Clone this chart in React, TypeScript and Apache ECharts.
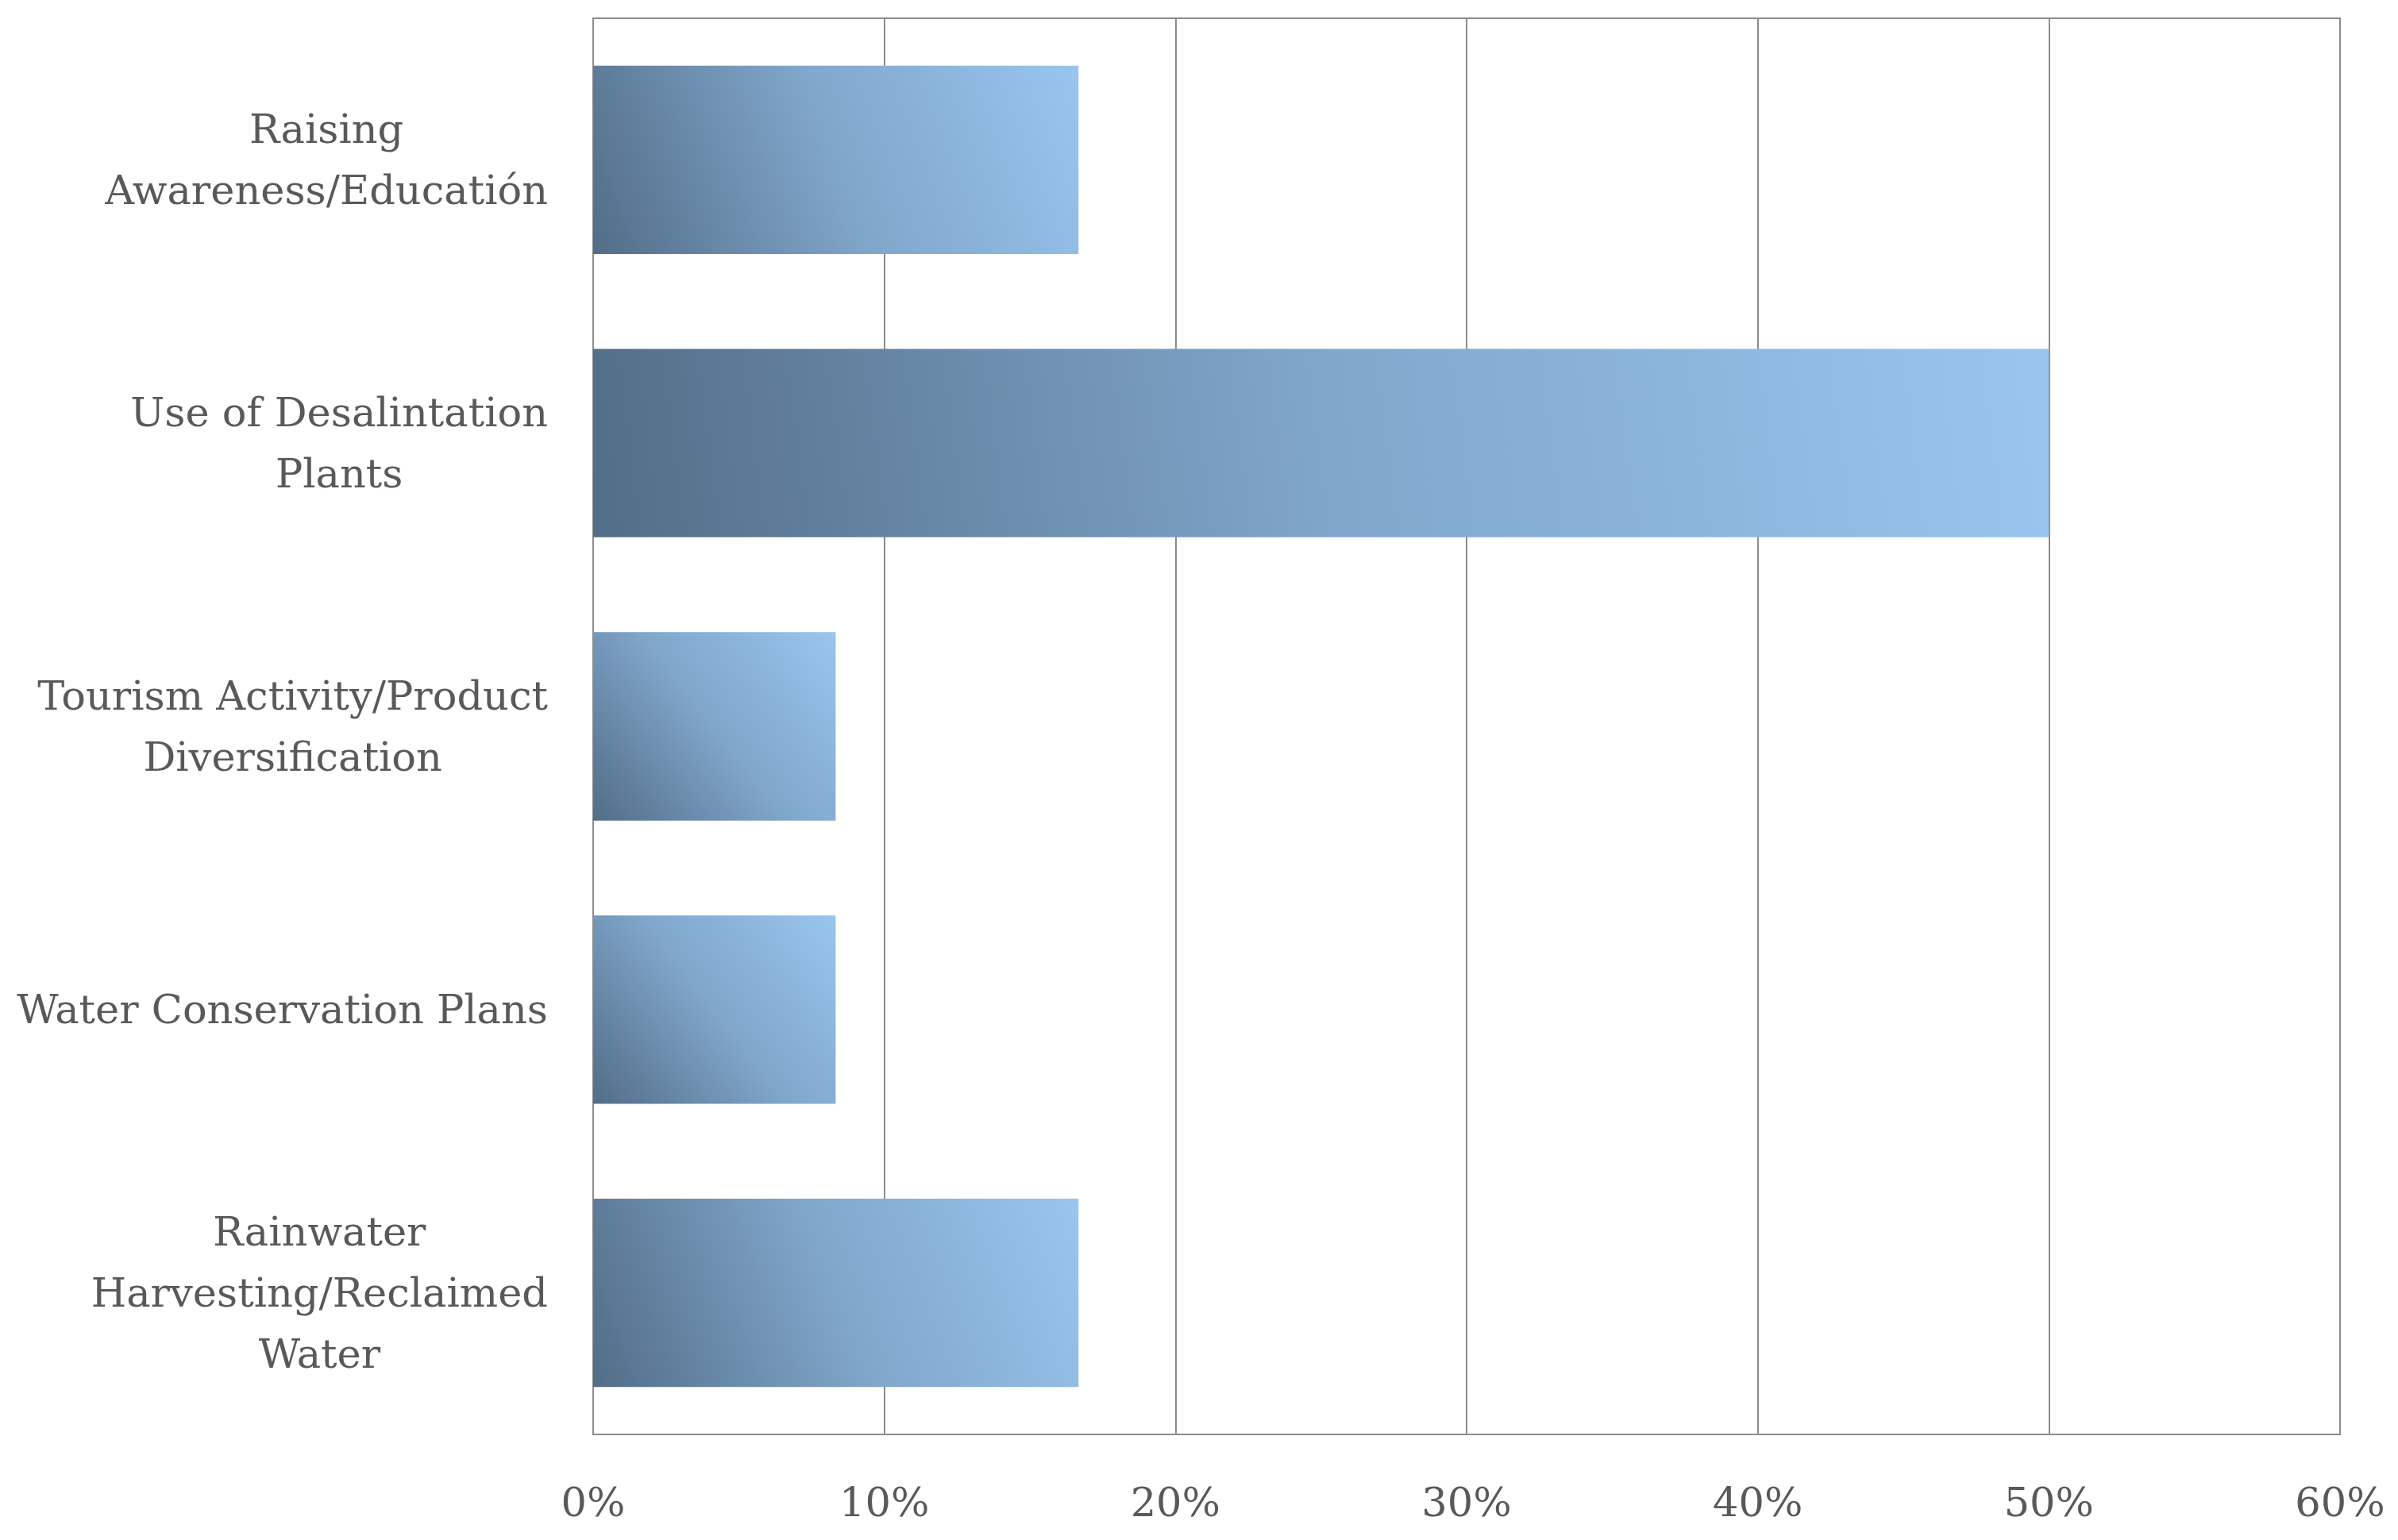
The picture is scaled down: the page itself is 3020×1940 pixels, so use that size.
import React, { useEffect, useRef } from "react";
import * as echarts from "echarts";

const categories = [
  "Raising\nAwareness/Educatión",
  "Use of Desalintation\nPlants",
  "Tourism Activity/Product\nDiversification",
  "Water Conservation Plans",
  "Rainwater\nHarvesting/Reclaimed\nWater",
];
const values = [16.67, 50, 8.33, 8.33, 16.67];
const xTicks = [0, 10, 20, 30, 40, 50, 60];

const FONT = "'Palatino Linotype', 'Book Antiqua', Palatino, 'DejaVu Serif', serif";
const TEXT = "#595959";
const LINE = "#8c8c8c";
const GAP = 0.335;
const STOPS = [
  { offset: 0, color: "#526d87" },
  { offset: 0.5, color: "#80a6cb" },
  { offset: 1, color: "#99c5ee" },
];

export default function App() {
  const ref = useRef<HTMLDivElement>(null);
  useEffect(() => {
    if (!ref.current) return;
    const chart = echarts.init(ref.current, null, { renderer: "svg" });
    chart.setOption({
      animation: false,
      backgroundColor: "#ffffff",
      grid: {
        left: 747,
        right: 73,
        top: 23,
        bottom: 133,
        show: true,
        borderColor: LINE,
        borderWidth: 2,
        containLabel: false,
      },
      xAxis: {
        type: "value",
        min: xTicks[0],
        max: xTicks[xTicks.length - 1],
        interval: 10,
        axisLine: { show: true, lineStyle: { color: LINE, width: 2 } },
        axisTick: { show: false },
        splitLine: { show: true, lineStyle: { color: LINE, width: 2 } },
        axisLabel: {
          formatter: (v: number) => `${v}%`,
          color: TEXT,
          fontFamily: FONT,
          fontSize: 51,
          margin: 60,
        },
      },
      yAxis: {
        type: "category",
        data: categories,
        inverse: true,
        axisLine: { show: true, lineStyle: { color: LINE, width: 2 } },
        axisTick: { show: false },
        splitLine: { show: false },
        axisLabel: {
          margin: 57,
          align: "right",
          lineHeight: 77,
          formatter: (v: string) =>
            v.split("\n").map((l) => `{c|${l}}`).join("\n"),
          rich: {
            c: {
              align: "center",
              color: TEXT,
              fontFamily: FONT,
              fontSize: 51,
              lineHeight: 77,
            },
          },
        },
      },
      series: [
        {
          type: "bar",
          data: values,
          barCategoryGap: `${GAP * 100}%`,
          itemStyle: { color: "#7ea4c8" },
        },
      ],
    });

    // pixel-space diagonal gradients (bottom-left -> top-right of each bar)
    const y0 = chart.convertToPixel({ yAxisIndex: 0 }, 0) as number;
    const y1 = chart.convertToPixel({ yAxisIndex: 0 }, 1) as number;
    const band = Math.abs(y1 - y0);
    const half = (band * (1 - GAP)) / 2;
    const xl = chart.convertToPixel({ xAxisIndex: 0 }, 0) as number;
    const styled = values.map((v, i) => {
      const yc = chart.convertToPixel({ yAxisIndex: 0 }, i) as number;
      const xr = chart.convertToPixel({ xAxisIndex: 0 }, v) as number;
      return {
        value: v,
        itemStyle: {
          color: new echarts.graphic.LinearGradient(
            xl,
            yc + half,
            xr,
            yc - half,
            STOPS,
            true
          ),
        },
      };
    });
    chart.setOption({ series: [{ data: styled }] });
    return () => chart.dispose();
  }, []);
  return (
    <div
      ref={ref}
      style={{ position: "fixed", left: 0, top: 0, width: 3020, height: 1940 }}
    />
  );
}
